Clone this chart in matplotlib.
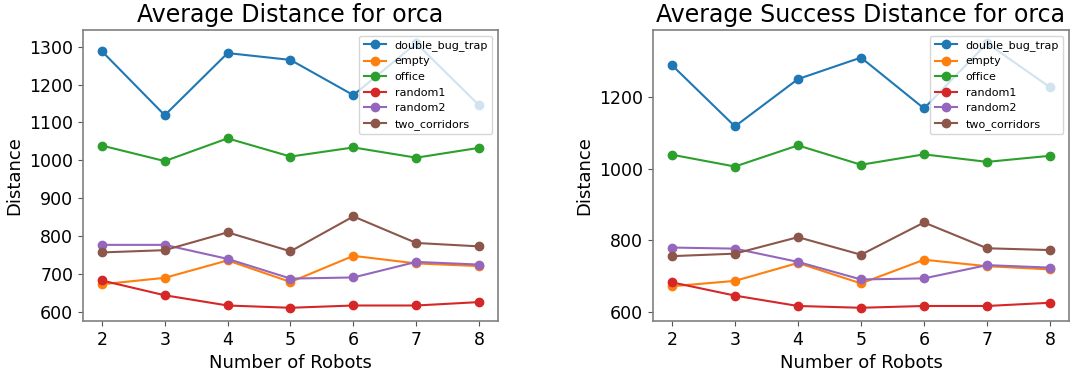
import numpy as np
import matplotlib
matplotlib.use("Agg")
import matplotlib.pyplot as plt

# Data
robots = [2, 3, 4, 5, 6, 7, 8]
maps = ["double_bug_trap", "empty", "office", "random1", "random2", "two_corridors"]

avg_distance = {
    "double_bug_trap": [1288, 1119, 1283, 1265, 1172, 1309, 1145],
    "empty":           [673, 690, 736, 679, 748, 728, 721],
    "office":          [1039, 998, 1058, 1010, 1034, 1007, 1033],
    "random1":         [683, 644, 617, 611, 617, 617, 626],
    "random2":         [777, 777, 740, 688, 691, 732, 725],
    "two_corridors":   [757, 763, 810, 760, 852, 782, 773],
}

avg_success_distance = {
    "double_bug_trap": [1289, 1118, 1250, 1310, 1168, 1350, 1227],
    "empty":           [672, 687, 737, 680, 746, 728, 719],
    "office":          [1039, 1006, 1065, 1011, 1040, 1019, 1036],
    "random1":         [683, 646, 617, 612, 617, 617, 626],
    "random2":         [780, 777, 740, 691, 694, 731, 724],
    "two_corridors":   [756, 763, 809, 760, 850, 778, 773],
}

left_yticks = [600, 700, 800, 900, 1000, 1100, 1200, 1300]
right_yticks = [600, 800, 1000, 1200]

fig = plt.figure(figsize=(10.7, 3.73), dpi=100)
ax1 = fig.add_axes([83 / 1070, 1 - 321 / 373, 415 / 1070, 291 / 373])
ax2 = fig.add_axes([653 / 1070, 1 - 321 / 373, 416 / 1070, 291 / 373])

for ax, data, title, yt in [(ax1, avg_distance, "Average Distance for orca", left_yticks),
                            (ax2, avg_success_distance, "Average Success Distance for orca", right_yticks)]:
    for name in maps:
        ax.plot(robots, data[name], marker="o", markersize=6, linewidth=1.5, label=name)
    ax.set_title(title, fontsize=17)
    ax.set_xlabel("Number of Robots", fontsize=13)
    ax.set_ylabel("Distance", fontsize=13)
    ax.set_xticks(robots)
    ax.set_yticks(yt)
    ax.tick_params(axis="both", labelsize=12.5, color="#555555")
    for s in ax.spines.values():
        s.set_color("#808080")
        s.set_linewidth(1.2)
    ax.legend(loc="upper right", fontsize=8, framealpha=0.8)

fig.savefig("out.png", dpi=100)
